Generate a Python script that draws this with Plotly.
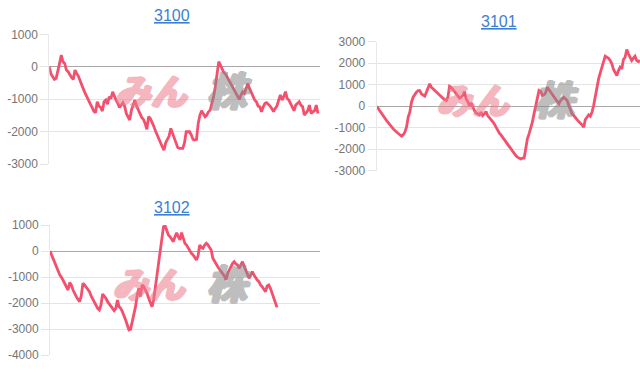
import plotly.graph_objects as go

# ---- data ----
titles = ["3100", "3101", "3102"]

s3100 = [0, -226, -309, -391, -360, -154, 103, 360, 154, 103, -103, -154, -257, -329, -391, -103, -206, -288,
         -432, -597, -700, -823, -946, -1049, -1152, -1254, -1368, -1419, -1080, -1213, -1254, -1368, -1080,
         -1028, -1152, -925, -987, -771, -925, -1028, -1131, -1254, -1183, -1110, -1213, -1440, -1543, -1646,
         -1337, -1152, -1028, -1213, -1337, -1491, -1563, -1625, -1748, -1933, -1543, -1594, -1697, -1830,
         -1974, -2108, -2242, -2365, -2468, -2571, -2345, -2242, -2139, -1902, -2057, -2180, -2345, -2488,
         -2519, -2519, -2519, -2345, -2005, -2005, -2005, -2108, -2242, -2262, -2242, -1748, -1491, -1357,
         -1440, -1543, -1491, -1388, -1337, -1131, -925, -617, -206, 154, 51, -51, -185, -226, -329, -411,
         -535, -638, -720, -843, -925, -1008, -874, -771, -823, -638, -514, -668, -802, -874, -1028, -1080,
         -1213, -1234, -1388, -1234, -1131, -1110, -1152, -1213, -1285, -1388, -1285, -1213, -1028, -874,
         -1028, -925, -771, -977, -1028, -1131, -1213, -1357, -1183, -1131, -1080, -1183, -1234, -1491,
         -1419, -1357, -1183, -1440, -1388, -1357, -1183, -1440]

s3101 = [0, -124, -248, -357, -434, -558, -667, -775, -868, -977, -1054, -1132, -1209, -1287, -1333, -1395,
         -1333, -1209, -977, -512, -279, 186, 419, 574, 651, 729, 729, 574, 527, 465, 651, 884, 1039, 884,
         806, 729, 682, 574, 496, 419, 372, 310, 264, 419, 930, 884, 775, 682, 574, 465, 372, 419, 496, 682,
         341, 217, 31, 155, -47, -202, -310, -357, -403, -279, -434, -357, -248, -434, -512, -589, -713, -822,
         -977, -1132, -1240, -1333, -1442, -1550, -1674, -1767, -1860, -1984, -2109, -2217, -2295, -2372,
         -2419, -2450, -2419, -2419, -1984, -1519, -1287, -1054, -744, -357, 31, 496, 729, 682, 496, 527, 620,
         884, 775, 682, 574, 465, 341, 186, 109, 264, 341, 419, 341, 264, 31, -202, -357, -434, -558, -620,
         -713, -775, -868, -977, -620, -512, -403, -465, -279, 31, 496, 884, 1271, 1550, 1814, 2047, 2326,
         2279, 2233, 2124, 1969, 1705, 1581, 1426, 1659, 1814, 1736, 2171, 2279, 2636, 2434, 2233, 2124,
         2233, 2326, 2124, 2078, 2124]

s3102 = [0, -154, -346, -449, -628, -756, -923, -1013, -1141, -1244, -1346, -1500, -1218, -1308, -1500, -1654,
         -1756, -1859, -1949, -1731, -1244, -1308, -1397, -1500, -1564, -1731, -1859, -2013, -2115, -2205,
         -2269, -2077, -1654, -1731, -1821, -1949, -2038, -2141, -2205, -2295, -2205, -1885, -2141, -2205,
         -2333, -2462, -2654, -2846, -3038, -3013, -2718, -2462, -2141, -1692, -1436, -1756, -1308, -1372,
         -1474, -1628, -1821, -2013, -2141, -1885, -1436, -859, -346, 103, 551, 936, 962, 744, 615, 551, 449,
         359, 551, 705, 551, 423, 705, 487, 295, 231, 103, -26, -90, -154, -282, -346, -192, 231, 141, 103,
         231, 295, 231, 103, 38, -282, -410, -500, -603, -705, -795, -885, -962, -1115, -859, -731, -577,
         -474, -410, -500, -538, -667, -538, -410, -577, -731, -923, -1051, -923, -795, -923, -1051, -1115,
         -1179, -1308, -1372, -1500, -1564, -1346, -1308, -1436, -1628, -1821, -2013, -2167]

y_ranges = [[-3000, 1000], [-3000, 3000], [-4000, 1000]]
y_ticks = [[1000, 0, -1000, -2000, -3000],
           [3000, 2000, 1000, 0, -1000, -2000, -3000],
           [1000, 0, -1000, -2000, -3000, -4000]]

W, H = 640, 372
LINE = "#f4506e"

# panel geometry in pixels: (x0, x1, ytop, ybottom, last_point_px)
panels = [
    (49.3, 320.0, 34.3, 164.0, 318.0),
    (376.7, 640.0, 41.7, 170.7, 640.0),
    (50.0, 320.0, 225.0, 355.0, 277.0),
]
series = [s3100, s3101, s3102]

fig = go.Figure()
layout = dict(width=W, height=H, margin=dict(l=0, r=0, t=0, b=0, pad=0, autoexpand=False),
              paper_bgcolor="white", plot_bgcolor="white", showlegend=False)

for i, (vals, (x0, x1, yt, yb, lastpx)) in enumerate(zip(series, panels)):
    n = i + 1
    xs = list(range(len(vals)))
    fig.add_trace(go.Scatter(x=xs, y=vals, mode="lines",
                             line=dict(color=LINE, width=2.8),
                             xaxis=f"x{n}", yaxis=f"y{n}", hoverinfo="skip"))
    xr = (len(vals) - 1) * (x1 - x0) / (lastpx - x0)
    sfx = "" if n == 1 else str(n)
    layout["xaxis" + sfx] = dict(domain=[x0 / W, x1 / W], range=[0, xr], anchor=f"y{n}",
                                 showgrid=False, zeroline=False, showticklabels=False,
                                 showline=False, ticks="", automargin=False)
    layout["yaxis" + sfx] = dict(domain=[1 - yb / H, 1 - yt / H], range=y_ranges[i],
                                 anchor=f"x{n}", tickmode="array", tickvals=y_ticks[i],
                                 ticktext=[str(v) for v in y_ticks[i]], automargin=False,
                                 showgrid=True, gridcolor="#e4e4e4", gridwidth=1,
                                 zeroline=True, zerolinecolor="#a8a8a8", zerolinewidth=1,
                                 showline=True, linecolor="#e8e8e8", linewidth=1,
                                 ticks="outside", ticklen=8, tickcolor="#e4e4e4",
                                 tickfont=dict(family="Liberation Sans, Arial", size=12,
                                               color="#757575"))

fig.update_layout(**layout)

# titles
title_pos = [(172, 16), (499, 22), (172, 208)]
for t, (tx, ty) in zip(titles, title_pos):
    fig.add_annotation(text=f"<u>{t}</u>", x=tx / W, y=1 - ty / H, xref="paper", yref="paper",
                       showarrow=False, xanchor="center", yanchor="middle",
                       font=dict(family="Liberation Sans, Arial", size=16, color="#3c7fd0"))

# watermark (logo approximated with text)
def thick(c):
    return f"1px 0 0 {c}, -1px 0 0 {c}, 0 1px 0 {c}, 0 -1px 0 {c}, 2px 0 0 {c}, 2px 1px 0 {c}"

pink = "#ec7d8c"
grey = "#8a8a8a"
wm = [((150, 89), (228, 89)), ((472, 98), (555, 98)), ((148, 282), (228, 282))]
for (a, b) in wm:
    fig.add_annotation(text="<b><i>みん</i></b>", x=a[0] / W, y=1 - a[1] / H, xref="paper", yref="paper",
                       showarrow=False, xanchor="center", yanchor="middle", opacity=0.55,
                       font=dict(family="Noto Sans CJK JP", size=36, color=pink, weight=900,
                                 shadow=thick(pink)))
    fig.add_annotation(text="<b><i>株</i></b>", x=b[0] / W, y=1 - b[1] / H, xref="paper", yref="paper",
                       showarrow=False, xanchor="center", yanchor="middle", opacity=0.55,
                       font=dict(family="Noto Sans CJK JP", size=40, color=grey, weight=900,
                                 shadow=thick(grey)))

fig.write_html("out.html")
